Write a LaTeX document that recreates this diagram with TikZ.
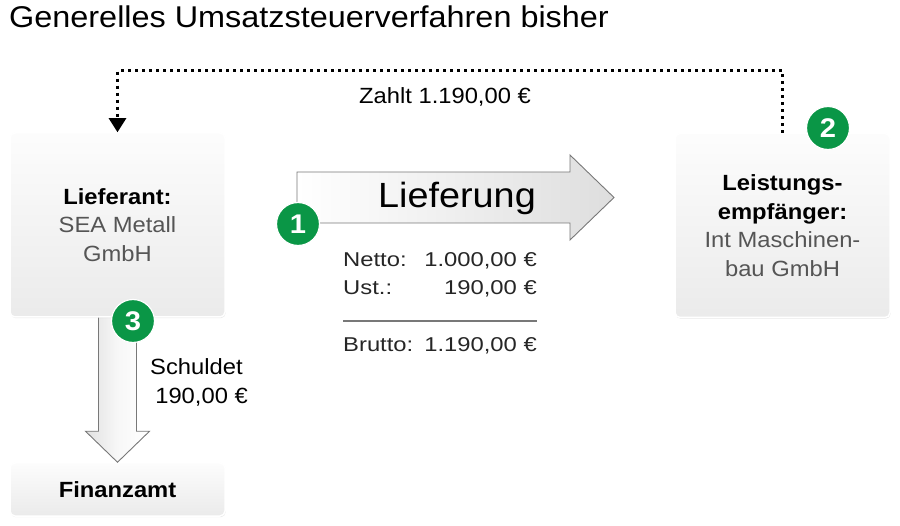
\documentclass[tikz,border=0pt]{standalone}
\usepackage{fontspec}
\setmainfont{Liberation Sans}[FakeStretch=1.08]
\newfontfamily\widefont{Liberation Sans}[FakeStretch=1.19]
\usepackage{tikz}
\definecolor{stgreen}{RGB}{10,150,70}
\definecolor{stgray}{RGB}{85,85,85}
\definecolor{stline}{RGB}{120,120,120}
\usetikzlibrary{arrows.meta,positioning,calc,shadows}

\begin{document}
\begin{tikzpicture}[x=1pt,y=-1pt,
    partybox/.style={rectangle,rounded corners=5pt,draw=white,line width=1.5pt,
        top color=white!99!black,bottom color=white!92!black,
        drop shadow={opacity=0.2,shadow xshift=0.6pt,shadow yshift=-1.2pt},
        align=center,font=\fontsize{22}{28.5}\selectfont,minimum width=215pt},
    badge/.style={circle,fill=stgreen,draw=white,line width=1.2pt,text=white,
        minimum size=43pt,inner sep=0pt,font=\fontsize{27}{27}\selectfont\bfseries},
    bigarrow/.style={draw=stline,line width=0.9pt,line join=miter},
    paydash/.style={line width=2.6pt,dash pattern=on 3pt off 4pt,
        -{Triangle[width=17pt,length=14pt]}},
    tabtxt/.style={inner sep=0pt,text=black!85,font=\widefont\fontsize{20}{22}\selectfont}]
  \useasboundingbox (0,0) rectangle (900,526);

  %% Titel
  \node[anchor=base west,inner sep=0pt,font=\fontsize{30}{33}\selectfont]
        (titel) at (9,28) {Generelles Umsatzsteuerverfahren bisher};

  %% Finanzamt und Pfeil 3
  \node[partybox,minimum height=53pt] (fa) at (117.5,489.5)
        {\textbf{Finanzamt}};
  \draw[bigarrow,left color=white!88!black,right color=white,middle color=white!97!black]
        ($(fa.north)+(-19,-146)$) -- ($(fa.north)+(-19,-31)$)
        -- ($(fa.north)+(-32,-31)$) -- (fa.north) -- ($(fa.north)+(32,-31)$)
        -- ($(fa.north)+(19,-31)$) -- ($(fa.north)+(19,-146)$);

  %% Lieferant
  \node[partybox,minimum height=184pt] (lief) at (117.5,225)
        {\textbf{Lieferant:}\\\textcolor{stgray}{SEA Metall}\\\textcolor{stgray}{GmbH}};

  %% Leistungsempfaenger
  \node[partybox,minimum height=184pt] (empf) at (782.5,225.5)
        {\textbf{Leistungs-}\\\textbf{empfänger:}\\
         \textcolor{stgray}{Int Maschinen-}\\\textcolor{stgray}{bau GmbH}};

  %% Zahlung
  \draw[paydash] (empf.north) -- ++(0,-62) -| (lief.north);
  \node[font=\fontsize{22}{24}\selectfont] (zahlt) at (445,97)
        {Zahlt 1.190,00 €};

  %% Lieferung
  \draw[bigarrow,left color=white,right color=white!87!black]
        (297,172) -- (570,172) -- (570,155) -- (614,197.5)
        -- (570,240) -- (570,223) -- (297,223) -- cycle;
  \node[font=\fontsize{35}{38}\selectfont] (lieferung) at (457,198) {Lieferung};

  %% Rechnung
  \node[tabtxt,anchor=base west] (netto) at (343,267) {Netto:};
  \node[tabtxt,anchor=base east] (nettowert) at (537,267) {1.000,00 €};
  \node[tabtxt,anchor=base west] (ust) at (343,295) {Ust.:};
  \node[tabtxt,anchor=base east] (ustwert) at (537,295) {190,00 €};
  \draw[stline,line width=1.4pt] (343,321) -- (537,321);
  \node[tabtxt,anchor=base west] (brutto) at (343,352) {Brutto:};
  \node[tabtxt,anchor=base east] (bruttowert) at (537,352) {1.190,00 €};

  %% Schuld
  \node[anchor=base west,inner sep=0pt,font=\fontsize{22}{24}\selectfont]
        (schuldet) at (150,375) {Schuldet};
  \node[anchor=base east,inner sep=0pt,font=\fontsize{22}{24}\selectfont]
        (schuldwert) at (248,404) {190,00 €};

  %% Nummern
  \node[badge] (b1) at (298,224) {1};
  \node[badge] (b2) at (828,128) {2};
  \node[badge] (b3) at (133,321) {3};
\end{tikzpicture}
\end{document}
